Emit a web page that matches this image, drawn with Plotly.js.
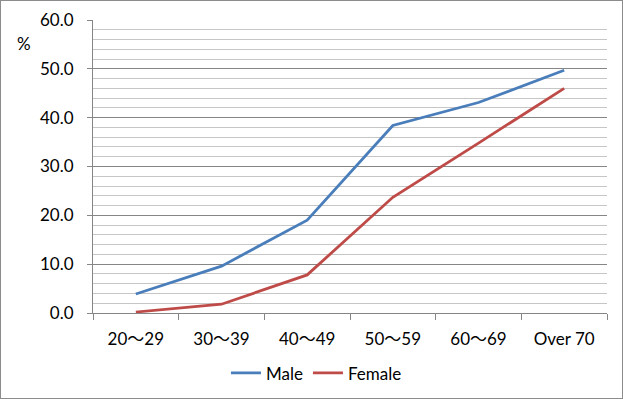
<!DOCTYPE html>
<html><head><meta charset="utf-8">
<script src="https://cdn.plot.ly/plotly-3.0.1.min.js"></script>
<style>body{margin:0;background:#fff}#c{width:621px;height:397px;border:1px solid #8c8c8c}</style>
</head><body><div id="c"></div>
<script>
const categories = ["20～29","30～39","40～49","50～59","60～69","Over 70"];
const male = [3.9, 9.6, 19.0, 38.4, 43.1, 49.7];
const female = [0.2, 1.8, 7.8, 23.7, 34.8, 46.0];
const font = "Lato, 'Noto Sans CJK JP', sans-serif";
const data = [
  {x: categories, y: male, name: "Male", type: "scatter", mode: "lines", line: {color: "#4A7EBB", width: 2.8}},
  {x: categories, y: female, name: "Female", type: "scatter", mode: "lines", line: {color: "#BE4B48", width: 2.8}}
];
const layout = {
  width: 621, height: 397,
  margin: {l: 92, r: 15, t: 19, b: 85},
  paper_bgcolor: "#fff", plot_bgcolor: "#fff",
  font: {family: font, size: 17, color: "#000"},
  showlegend: true,
  legend: {orientation: "h", x: 0.508, xanchor: "center", xref: "container", y: 0.062, yanchor: "middle", yref: "container", font: {size: 17, family: font}},
  xaxis: {type: "category", tickson: "boundaries", ticks: "outside", ticklen: 6, tickcolor: "#868686",
          showline: true, linecolor: "#868686", showgrid: false, range: [-0.5, 5.5], automargin: false,
          ticklabelstandoff: 11, tickfont: {size: 17, family: font}},
  yaxis: {range: [0, 60], dtick: 10, tickformat: ".1f", ticks: "outside", ticklen: 5, tickcolor: "#868686",
          showline: true, linecolor: "#868686", gridcolor: "#868686", gridwidth: 1, zeroline: false, automargin: false,
          ticklabelstandoff: 10,
          minor: {dtick: 2, showgrid: true, gridcolor: "#c6c6c6", gridwidth: 1, ticks: ""}, tickfont: {size: 17, family: font}},
  annotations: [{text: "%", xref: "paper", yref: "paper", x: -0.135, y: 0.92, xanchor: "center", yanchor: "middle", showarrow: false, font: {size: 17, family: font}}]
};
Plotly.newPlot("c", data, layout, {displayModeBar: false, staticPlot: true});
</script></body></html>
